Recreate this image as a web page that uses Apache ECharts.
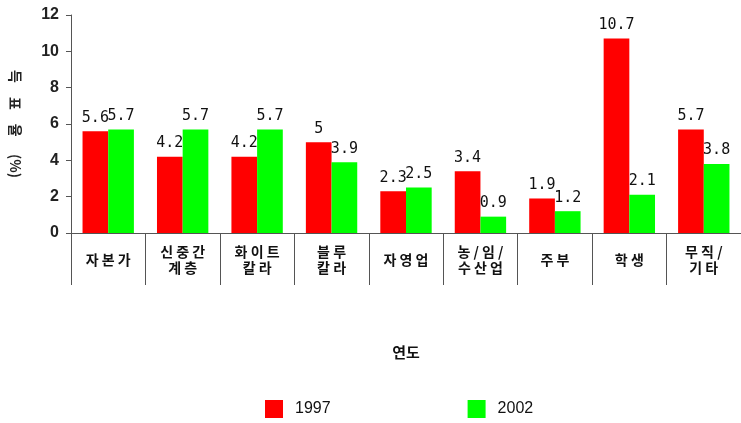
<!DOCTYPE html>
<html>
<head>
<meta charset="utf-8">
<script src="https://cdn.jsdelivr.net/npm/echarts@6/dist/echarts.min.js"></script>
<style>
  html, body { margin: 0; padding: 0; background: #fff; }
  #chart { width: 741px; height: 423px; }
</style>
</head>
<body>
<div id="chart"></div>
<script>
// Occupation categories (two-line labels use \n)
const categories = ['자본가', '신중간\n계층', '화이트\n칼라', '블루\n칼라', '자영업', '농/임/\n수산업', '주부', '학생', '무직/\n기타'];
const seriesNames = ['1997', '2002'];
const values1997 = [5.6, 4.2, 4.2, 5, 2.3, 3.4, 1.9, 10.7, 5.7];
const values2002 = [5.7, 5.7, 5.7, 3.9, 2.5, 0.9, 1.2, 2.1, 3.8];
const yTicks = { min: 0, max: 12, interval: 2 };

const chart = echarts.init(document.getElementById('chart'));

const labelStyle = {
  show: true,
  position: 'top',
  distance: 6,
  fontFamily: 'DejaVu Sans Mono',
  fontSize: 15,
  color: '#111'
};

// spread the hangul glyphs a little, line by line
const spread = s => s.split('\n').map(line => line.split('').join(' ')).join('\n');

chart.setOption({
  animation: false,
  backgroundColor: '#fff',
  grid: { left: 67, top: 15, width: 681, bottom: 190, containLabel: false },
  legend: {
    left: 260,
    top: 395,
    itemWidth: 18,
    itemHeight: 18,
    itemGap: 137,
    icon: 'rect',
    textStyle: { fontFamily: 'Liberation Sans', fontSize: 16, color: '#111', padding: [0, 0, 0, 7] },
    data: seriesNames
  },
  xAxis: {
    type: 'category',
    data: categories,
    name: '연도',
    nameLocation: 'middle',
    nameGap: 112,
    nameTextStyle: { fontFamily: 'Noto Sans CJK KR', fontWeight: 'bold', fontSize: 15, color: '#111' },
    axisLine: { lineStyle: { color: '#555', width: 1 } },
    axisTick: { show: true, alignWithLabel: false, length: 52, inside: false, lineStyle: { color: '#555' } },
    axisLabel: {
      margin: 27,
      fontFamily: 'Noto Sans CJK KR',
      fontWeight: 'bold',
      fontSize: 14,
      lineHeight: 16,
      color: '#111',
      verticalAlign: 'middle',
      formatter: v => spread(v)
    }
  },
  yAxis: {
    type: 'value',
    min: yTicks.min,
    max: yTicks.max,
    interval: yTicks.interval,
    name: '득\u3000표\u3000율\u3000 (%)',
    nameLocation: 'middle',
    nameRotate: -90,
    nameGap: 49,
    nameTextStyle: { fontFamily: 'Noto Sans CJK KR', fontWeight: 'bold', fontSize: 14, color: '#222' },
    splitLine: { show: false },
    axisLine: { show: true, lineStyle: { color: '#555', width: 1 } },
    axisTick: { show: true, length: 5, lineStyle: { color: '#555' } },
    axisLabel: { margin: 12, fontFamily: 'Liberation Sans', fontWeight: 'bold', fontSize: 16, color: '#222' }
  },
  series: [
    {
      name: seriesNames[0],
      type: 'bar',
      data: values1997,
      itemStyle: { color: '#ff0000' },
      barGap: '0%',
      barCategoryGap: '31%',
      label: labelStyle
    },
    {
      name: seriesNames[1],
      type: 'bar',
      data: values2002,
      itemStyle: { color: '#00ff00' },
      label: labelStyle
    }
  ]
});
</script>
</body>
</html>
